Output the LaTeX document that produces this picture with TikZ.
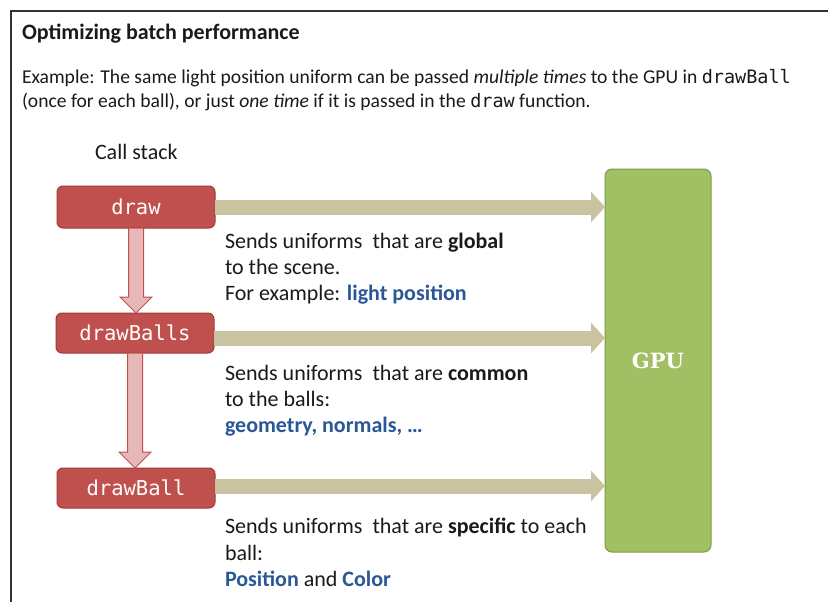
\documentclass[tikz,border=0pt]{standalone}
\usepackage{fontspec}
\setmainfont{Carlito}
\newfontfamily\monof{DejaVu Sans Mono}
\newfontfamily\gpuf{DejaVu Serif}
\usetikzlibrary{arrows.meta,calc}
\definecolor{boxred}{HTML}{C0504D}
\definecolor{boxredline}{HTML}{9C3B38}
\definecolor{pinkfill}{HTML}{E6B9B8}
\definecolor{tan}{HTML}{C9C3A0}
\definecolor{gpugreen}{HTML}{A1C063}
\definecolor{gpuline}{HTML}{7E9B46}
\definecolor{linkblue}{HTML}{2B5797}
\definecolor{txt}{HTML}{1A1A1A}
\begin{document}
\begin{tikzpicture}[x=1pt,y=-1pt,
  every node/.style={inner sep=0pt,outer sep=0pt},
  txtline/.style={anchor=base west,font=\fontsize{22}{26}\selectfont,text=txt},
  exline/.style={anchor=base west,font=\fontsize{19.6}{24}\selectfont,text=txt},
  callbox/.style={draw=boxredline,line width=1pt,fill=boxred,rounded corners=6pt,
     minimum width=158pt,minimum height=42pt,text=white,font=\monof\fontsize{20.5}{24}\selectfont},
  gpubox/.style={draw=gpuline,line width=1pt,fill=gpugreen,rounded corners=7pt,
     minimum width=106pt,minimum height=383pt,text=white,font=\gpuf\bfseries\fontsize{21}{26}\selectfont},
  sendarrow/.style={draw=tan,line width=15pt,-{Triangle[width=30pt,length=14pt]}},
  downarrow/.style={draw=boxred,line width=1pt,fill=pinkfill,line join=miter}
]
\useasboundingbox (0,0) rectangle (828,602);
\fill[white] (0,0) rectangle (828,602);
\draw[line width=1.3pt,color=black!80] (828,11) -- (11,11) -- (11,602);

\node[txtline,font=\bfseries\fontsize{22}{26}\selectfont] (title) at (22,40) {Optimizing batch performance};
\node[exline] (ex1) at (22,84) {Example: The same light position uniform can be passed \emph{multiple times} to the GPU in {\monof\fontsize{18.5}{20}\selectfont drawBall}};
\node[exline] (ex2) at (22,107) {(once for each ball), or just \emph{one time} if it is passed in the {\monof\fontsize{18.5}{20}\selectfont draw} function.};

\node[txtline] (callstack) at (95,159) {Call stack};

\node[callbox] (b1) at (136,207) {draw};
\node[callbox,minimum height=40pt] (b2) at (135,333) {drawBalls};
\node[callbox,minimum height=40pt] (b3) at (136,488) {drawBall};

\node[gpubox] (gpu) at (658,360.5) {GPU};

\draw[sendarrow] (b1.east) -- (b1.east -| gpu.west);
\draw[sendarrow] ([yshift=-5pt]b2.east) -- ([yshift=-5pt]b2.east -| gpu.west);
\draw[sendarrow] ([yshift=2pt]b3.east) -- ([yshift=2pt]b3.east -| gpu.west);

\path[downarrow] let \p1=(b1.south), \p2=(b2.north) in
  (\x1-7.5pt,\y1) -- (\x1-7.5pt,\y2+16pt) -- (\x1-16pt,\y2+16pt) -- (\x1,\y2)
  -- (\x1+16pt,\y2+16pt) -- (\x1+7.5pt,\y2+16pt) -- (\x1+7.5pt,\y1) -- cycle;
\path[downarrow] let \p1=(b2.south), \p2=(b3.north) in
  (\x1-7.5pt,\y1) -- (\x1-7.5pt,\y2+16pt) -- (\x1-16pt,\y2+16pt) -- (\x1,\y2)
  -- (\x1+16pt,\y2+16pt) -- (\x1+7.5pt,\y2+16pt) -- (\x1+7.5pt,\y1) -- cycle;

\node[txtline] (t1a) at (225,248) {Sends uniforms~ that are \textbf{global}};
\node[txtline] (t1b) at (225,274) {to the scene.};
\node[txtline] (t1c) at (225,300) {For example: \textcolor{linkblue}{\textbf{light position}}};

\node[txtline] (t2a) at (225,380) {Sends uniforms~ that are \textbf{common}};
\node[txtline] (t2b) at (225,406) {to the balls:};
\node[txtline] (t2c) at (225,432) {\textcolor{linkblue}{\textbf{geometry, normals, …}}};

\node[txtline] (t3a) at (225,533) {Sends uniforms~ that are \textbf{specific} to each};
\node[txtline] (t3b) at (225,560) {ball:};
\node[txtline] (t3c) at (225,586) {\textcolor{linkblue}{\textbf{Position}} and \textcolor{linkblue}{\textbf{Color}}};
\end{tikzpicture}
\end{document}
